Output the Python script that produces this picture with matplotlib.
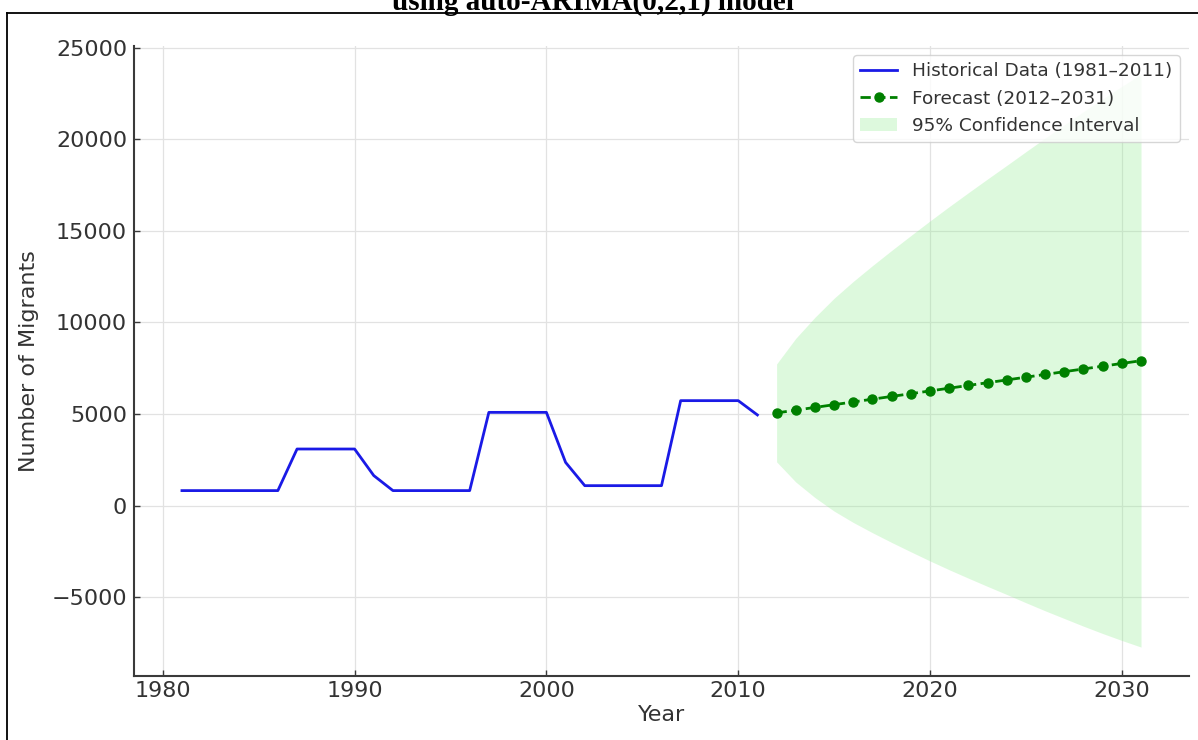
import matplotlib
matplotlib.use("Agg")
import matplotlib.pyplot as plt
from matplotlib.lines import Line2D

# Historical migrant counts, 1981-2011
hist_years = list(range(1981, 2012))
hist_values = [820, 820, 820, 820, 820, 820,
               3090, 3090, 3090, 3090,
               1640,
               820, 820, 820, 820, 820,
               5090, 5090, 5090, 5090,
               2360,
               1090, 1090, 1090, 1090, 1090,
               5730, 5730, 5730, 5730,
               4950]

# Forecast 2012-2031 with its 95% interval
fc_years = list(range(2012, 2032))
fc_values = [5060, 5210, 5360, 5510, 5660, 5810, 5960, 6110, 6260, 6410,
             6560, 6710, 6860, 7010, 7160, 7310, 7460, 7610, 7760, 7910]
ci_lower = [2390, 1290, 440, -300, -920, -1480, -2010, -2520, -3020, -3500,
            -3960, -4410, -4850, -5300, -5740, -6160, -6580, -6980, -7360, -7720]
ci_upper = [7730, 9130, 10280, 11320, 12240, 13100, 13930, 14740, 15540, 16320,
            17080, 17830, 18570, 19320, 20060, 20780, 21500, 22200, 22880, 23540]

text_col = "#333333"

fig = plt.figure(figsize=(11.98, 7.40), dpi=100)
ax = fig.add_axes([0.11185, 0.08689, 0.88063, 0.85135])

ax.plot(hist_years, hist_values, color="#1a1ae6", lw=2,
        label="Historical Data (1981–2011)")
ax.plot(fc_years, fc_values, "o--", color="green", lw=2, markersize=6.5,
        label="Forecast (2012–2031)")
ax.fill_between(fc_years, ci_lower, ci_upper, color="lightgreen", alpha=0.3,
                lw=0, label="95% Confidence Interval")

ax.set_xlabel("Year", fontsize=16, color=text_col, labelpad=3)
ax.set_ylabel("Number of Migrants", fontsize=16, color=text_col, labelpad=9)

ax.grid(True, color="#e2e2e2", lw=0.9)
ax.set_axisbelow(True)
for side in ["top", "right"]:
    ax.spines[side].set_visible(False)
for side in ["left", "bottom"]:
    ax.spines[side].set_color("#3a3a3a")
    ax.spines[side].set_linewidth(1.5)

ax.tick_params(axis="both", direction="in", length=4, width=1,
               color="#3a3a3a", labelsize=16, labelcolor=text_col)
ax.tick_params(axis="y", pad=5)
ax.tick_params(axis="x", pad=3.5)

leg = ax.legend(loc="upper right", fontsize=13.3, frameon=True)
for t in leg.get_texts():
    t.set_color(text_col)

# caption line above the figure and the page frame
fig.text(593 / 1198, 1 - 9.3 / 740, "using auto-ARIMA(0,2,1) model",
         ha="center", va="baseline", fontsize=21, family="Liberation Serif",
         fontweight="bold", color="black")
fig.add_artist(Line2D([7.3 / 1198, 1.0], [1 - 13.3 / 740, 1 - 13.3 / 740],
                      transform=fig.transFigure, color="black", lw=1.3))
fig.add_artist(Line2D([7.3 / 1198, 7.3 / 1198], [0, 1 - 13.3 / 740],
                      transform=fig.transFigure, color="black", lw=1.3))

fig.savefig("out.png", dpi=100)
